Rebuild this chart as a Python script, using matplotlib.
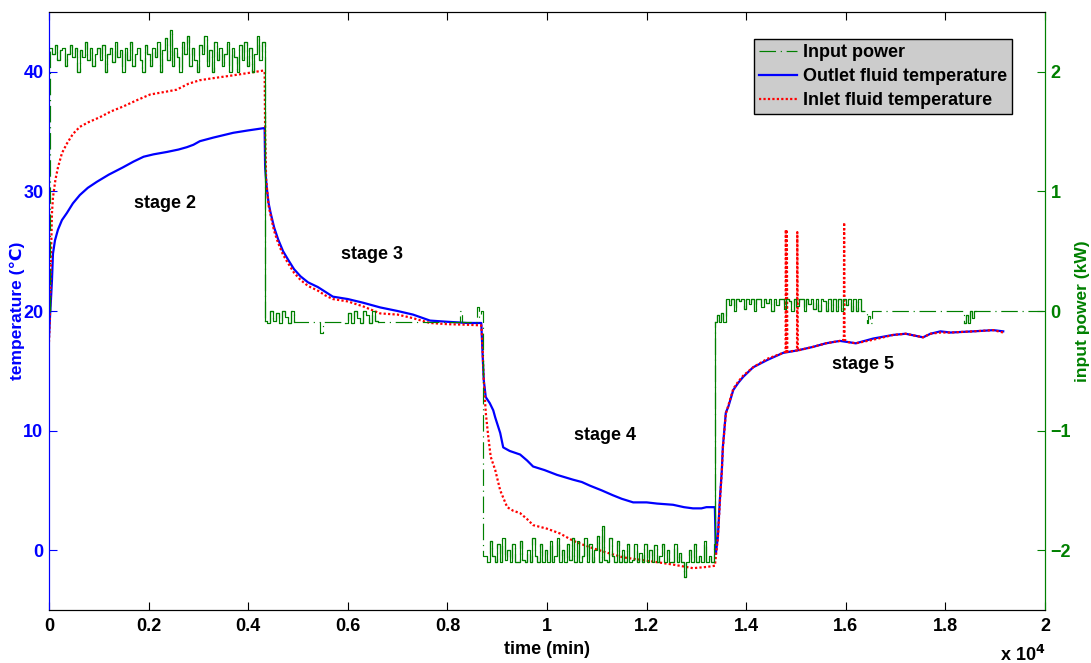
import numpy as np
import matplotlib.pyplot as plt

plt.rcParams['font.family'] = ['Liberation Sans', 'DejaVu Sans']
plt.rcParams['font.weight'] = 'bold'
plt.rcParams['font.size'] = 13

# outlet fluid temperature (C), per stage; time in min
out2_t = [0, 20, 40, 60, 80, 120, 180, 260, 360, 480, 620, 780, 960, 1200, 1480, 1700, 1900, 2100,
          2370, 2600, 2770, 2900, 3030, 3300, 3700, 4000, 4330]
out2_c = [17.8, 19.5, 21.0, 22.6, 24.8, 25.9, 26.8, 27.6, 28.2, 29.0, 29.7, 30.3, 30.8, 31.4, 32.0, 32.5, 32.9, 33.1,
          33.3, 33.5, 33.7, 33.9, 34.2, 34.5, 34.9, 35.1, 35.3]
out3_t = [4340, 4370, 4410, 4450, 4520, 4600, 4700, 4800, 4920, 5050, 5200, 5400, 5550, 5700, 6000,
          6300, 6650, 7000, 7310, 7650, 8000, 8400, 8680]
out3_c = [32.0, 30.4, 29.0, 28.2, 27.0, 26.0, 25.0, 24.3, 23.5, 22.9, 22.4, 22.0, 21.6, 21.2, 21.0,
          20.7, 20.3, 20.0, 19.7, 19.2, 19.1, 19.0, 19.0]
out4_t = [8700, 8730, 8770, 8850, 8920, 8960, 9060, 9120, 9250, 9460, 9600, 9720, 9950, 10200, 10520,
          10700, 10860, 11100, 11320, 11500, 11730, 12000, 12210, 12530, 12750, 12930, 13100, 13200, 13370]
out4_c = [17.0, 14.2, 12.8, 12.3, 11.7, 11.1, 9.8, 8.6, 8.3, 8.0, 7.5, 7.0, 6.7, 6.3, 5.9,
          5.7, 5.4, 5.0, 4.6, 4.3, 4.0, 4.0, 3.9, 3.8, 3.6, 3.5, 3.5, 3.6, 3.6]
out5_t = [13390, 13430, 13470, 13510, 13530, 13590, 13640, 13740, 13840, 13940, 14140, 14420, 14740,
          15020, 15340, 15600, 15880, 16050, 16200, 16550, 16950, 17200, 17550, 17700, 17900, 18100,
          18560, 18960, 19160]
out5_c = [-0.3, 1.1, 4.2, 6.7, 8.6, 11.5, 12.0, 13.4, 14.0, 14.5, 15.3, 15.9, 16.5,
          16.7, 17.0, 17.3, 17.5, 17.4, 17.3, 17.7, 18.0, 18.1, 17.8, 18.1, 18.3, 18.2,
          18.3, 18.4, 18.3]

# inlet fluid temperature (C), per stage
in2_t = [0, 20, 30, 45, 60, 80, 130, 180, 260, 360, 480, 620, 800, 1020, 1250, 1490, 1750, 2030,
         2300, 2560, 2800, 3030, 3350, 3690, 4000, 4300]
in2_c = [17.4, 20.0, 22.0, 25.4, 28.2, 29.5, 31.0, 32.0, 33.2, 34.0, 34.8, 35.4, 35.8, 36.2, 36.7, 37.1, 37.6, 38.1,
         38.3, 38.5, 39.0, 39.3, 39.5, 39.7, 39.9, 40.1]
in3_t = [4330, 4340, 4360, 4410, 4450, 4520, 4600, 4700, 4800, 4920, 5050, 5200, 5400, 5550, 5700,
         6000, 6300, 6650, 7000, 7310, 7650, 8000, 8400, 8680]
in3_c = [40.0, 35.0, 31.0, 28.8, 28.0, 26.7, 25.7, 24.7, 24.0, 23.2, 22.6, 22.1, 21.7, 21.3, 21.0,
         20.8, 20.4, 19.8, 19.7, 19.4, 19.0, 18.9, 18.85, 18.8]
in4_t = [8700, 8730, 8770, 8820, 8870, 8960, 9060, 9200, 9320, 9460, 9600, 9720, 10000, 10260, 10520,
         10700, 10860, 11200, 11530, 11870, 12210, 12530, 12930, 13200, 13370]
in4_c = [17.5, 14.2, 11.5, 9.5, 7.8, 6.7, 5.0, 3.6, 3.3, 3.1, 2.6, 2.1, 1.8, 1.4, 0.8,
         0.5, 0.25, -0.2, -0.6, -0.8, -1.0, -1.2, -1.5, -1.4, -1.3]
in5_t = [13430, 13470, 13510, 13530, 13590, 13640, 13740, 13840, 13940, 14140, 14420, 14740, 14790,
         14795, 14805, 14815, 14825, 15020, 15025, 15035, 15340, 15600, 15880, 15960, 15965, 15975,
         16050, 16200, 16550, 16950, 17200, 17550, 17700, 17900, 18100, 18560, 18960, 19160]
in5_c = [1.0, 4.0, 6.6, 8.5, 11.4, 12.1, 13.5, 14.1, 14.6, 15.3, 16.0, 16.5, 16.6,
         26.8, 16.6, 26.8, 16.6, 16.7, 26.6, 16.7, 17.0, 17.3, 17.5, 17.6, 27.4, 17.6,
         17.4, 17.3, 17.6, 18.0, 18.1, 17.8, 18.1, 18.2, 18.2, 18.3, 18.4, 18.2]

# input power (kW); the noisy parts were logged every 50 s
p2_t0, p2_dt = 20, 50
p2_kw = [2.2, 2.15, 2.22, 2.1, 2.18, 2.2, 2.05, 2.15, 2.22, 2.12,
         2.2, 2.0, 2.18, 2.12, 2.25, 2.1, 2.2, 2.05, 2.15, 2.2,
         2.1, 2.22, 2.0, 2.15, 2.2, 2.08, 2.25, 2.12, 2.18, 2.0,
         2.2, 2.1, 2.25, 2.05, 2.15, 2.2, 2.1, 2.0, 2.22, 2.15,
         2.05, 2.2, 2.12, 2.25, 2.0, 2.18, 2.28, 2.1, 2.35, 2.05,
         2.2, 2.12, 2.0, 2.25, 2.15, 2.3, 2.05, 2.2, 2.1, 2.0,
         2.22, 2.15, 2.3, 2.05, 2.18, 2.0, 2.25, 2.1, 2.2, 2.05,
         2.15, 2.25, 2.0, 2.2, 2.12, 2.0, 2.22, 2.1, 2.25, 2.05,
         2.2, 2.0, 2.15, 2.3, 2.1, 2.25]
p3_t = [4330, 4380, 4440, 4500, 4560, 4620, 4680, 4740, 4800, 4860,
        4920, 5440, 5500, 5950, 6010, 6070, 6130, 6190, 6250, 6310,
        6370, 6430, 6490, 6550, 6610, 8260, 8290, 8600, 8640, 8680, 8720]
p3_kw = [-0.08, -0.1, 0.0, -0.08, -0.02, -0.1, 0.0, -0.05, -0.1, 0.0,
         -0.09, -0.18, -0.09, -0.1, -0.02, -0.1, 0.0, -0.06, -0.1, 0.0,
         -0.03, -0.1, 0.0, -0.08, -0.09, 0.0, -0.09, 0.03, -0.05, 0.0, -2.05]
p4_t0, p4_dt = 8800, 50
p4_kw = [-2.1, -1.92, -2.05, -2.1, -1.95, -2.1, -1.9, -2.08, -2.0, -2.1,
         -1.95, -2.1, -2.1, -1.92, -2.08, -2.1, -2.0, -2.1, -1.9, -2.05,
         -2.1, -1.95, -2.1, -2.0, -2.1, -1.92, -2.1, -2.05, -1.9, -2.1,
         -2.0, -2.1, -1.95, -2.08, -1.9, -2.1, -1.92, -2.1, -2.05, -1.9,
         -2.1, -1.95, -2.1, -2.0, -1.88, -2.1, -1.8, -2.08, -2.1, -1.9,
         -2.05, -2.1, -1.92, -2.1, -2.0, -2.1, -1.95, -2.1, -2.08, -1.95,
         -2.1, -2.02, -2.1, -1.95, -2.1, -2.0, -2.1, -1.96, -2.1, -2.05,
         -1.95, -2.1, -2.0, -2.1, -2.1, -1.95, -2.1, -2.02, -2.1, -2.22,
         -2.1, -2.0, -2.1, -1.95, -2.1, -2.05, -2.1, -1.92, -2.1, -2.05,
         -2.1, -1.95]
p5a_t = [13380, 13420, 13460, 13500, 13540]
p5a_kw = [-0.09, -0.03, -0.09, -0.02, -0.09]
p5b_t0, p5b_dt = 13600, 50
p5b_kw = [0.1, 0.05, 0.1, 0.0, 0.1, 0.08, 0.1, 0.02, 0.1, 0.06,
          0.1, 0.0, 0.1, 0.1, 0.03, 0.1, 0.07, 0.1, 0.0, 0.1,
          0.05, 0.1, 0.1, 0.02, 0.1, 0.08, 0.0, 0.1, 0.04, 0.1,
          0.1, 0.0, 0.1, 0.06, 0.1, 0.02, 0.1, 0.0, 0.1, 0.08,
          0.0, 0.1, 0.0, 0.1, 0.0, 0.1, 0.0, 0.1, 0.05, 0.1,
          0.0, 0.1, 0.0, 0.1, 0.0, 0.0]
p5c_t = [16420, 16450, 16480, 16520, 18380, 18420, 18460, 18500, 18540, 18580, 18620, 19950]
p5c_kw = [-0.1, -0.04, -0.1, 0.0, -0.1, -0.03, -0.1, 0.0, -0.06, 0.0, 0.0, 0.0]

x_ticks = [0, 2000, 4000, 6000, 8000, 10000, 12000, 14000, 16000, 18000, 20000]
x_tick_labels = ['0', '0.2', '0.4', '0.6', '0.8', '1', '1.2', '1.4', '1.6', '1.8', '2']
stages = ['stage 2', 'stage 3', 'stage 4', 'stage 5']
stage_t = [2330, 6490, 11160, 16350]
stage_c = [29.0, 24.7, 9.6, 15.5]

outlet_t = out2_t + out3_t + out4_t + out5_t
outlet_c = out2_c + out3_c + out4_c + out5_c
inlet_t = in2_t + in3_t + in4_t + in5_t
inlet_c = in2_c + in3_c + in4_c + in5_c

# assemble the power record
power_t = np.array([0] + list(p2_t0 + p2_dt * np.arange(len(p2_kw))) + p3_t
                   + list(p4_t0 + p4_dt * np.arange(len(p4_kw))) + p5a_t
                   + list(p5b_t0 + p5b_dt * np.arange(len(p5b_kw))) + p5c_t)
power_kw = np.array([0.0] + p2_kw + p3_kw + p4_kw + p5a_kw + p5b_kw + p5c_kw)
# stretches where the power flickers (dash pattern is lost there)
noisy = [(20, 4330), (4330, 4920), (5950, 6610), (8800, 13380), (13380, 16380), (18380, 18620)]

green = '#008000'

fig = plt.figure(figsize=(10.91, 6.63), dpi=100)
ax = fig.add_axes([0.0449, 0.0799, 0.913, 0.902])
ax2 = ax.twinx()

l_out, = ax.plot(outlet_t, outlet_c, color='blue', lw=1.6, label='Outlet fluid temperature')
l_in, = ax.plot(inlet_t, inlet_c, color='red', lw=1.6, linestyle=(0, (1, 1)),
                label='Inlet fluid temperature')
l_p, = ax2.plot(power_t, power_kw, color=green, lw=0.85, drawstyle='steps-post',
                linestyle=(0, (14, 4, 1, 4)), label='Input power')
for a, b in noisy:
    m = (power_t >= a) & (power_t <= b)
    ax2.plot(power_t[m], power_kw[m], color=green, lw=0.85, drawstyle='steps-post')

for s, t, c in zip(stages, stage_t, stage_c):
    ax.text(t, c, s, ha='center', va='center', fontsize=13, fontweight='bold')

ax.set_xlim(0, 20000)
ax.set_ylim(-5, 45)
ax2.set_ylim(-2.5, 2.5)
ax.set_xticks(x_ticks)
ax.set_xticklabels(x_tick_labels)
ax.set_yticks([0, 10, 20, 30, 40])
ax2.set_yticks([-2, -1, 0, 1, 2])

ax.tick_params(axis='x', direction='in', top=True, length=6, colors='black', pad=6)
ax.tick_params(axis='y', direction='in', length=6, colors='blue', pad=4)
ax2.tick_params(axis='y', direction='in', length=6, colors=green, pad=4)
for a in (ax, ax2):
    a.spines['left'].set_color('blue')
    a.spines['right'].set_color(green)
    a.spines['top'].set_color('black')
    a.spines['bottom'].set_color('black')

ax.set_xlabel('time (min)', fontweight='bold', labelpad=4)
ax.set_ylabel('temperature (\u2103)', color='blue', fontweight='bold', fontsize=12.5, labelpad=-1)
ax2.set_ylabel('input power (kW)', color=green, fontweight='bold', fontsize=12.5, labelpad=3)
ax.text(1.0, -0.075, r'x 10$^{\mathbf{4}}$', transform=ax.transAxes, ha='right', va='center',
        fontweight='bold')

leg = ax2.legend([l_p, l_out, l_in], [l_p.get_label(), l_out.get_label(), l_in.get_label()],
                 loc='upper right', bbox_to_anchor=(0.967, 0.955), borderaxespad=0,
                 fancybox=False, facecolor='#cccccc', edgecolor='black', framealpha=1,
                 handlelength=2.1, labelspacing=0.38, borderpad=0.3, handletextpad=0.3,
                 prop={'weight': 'bold', 'size': 13})
leg.get_frame().set_linewidth(1.0)

fig.savefig('out.png', dpi=100)
